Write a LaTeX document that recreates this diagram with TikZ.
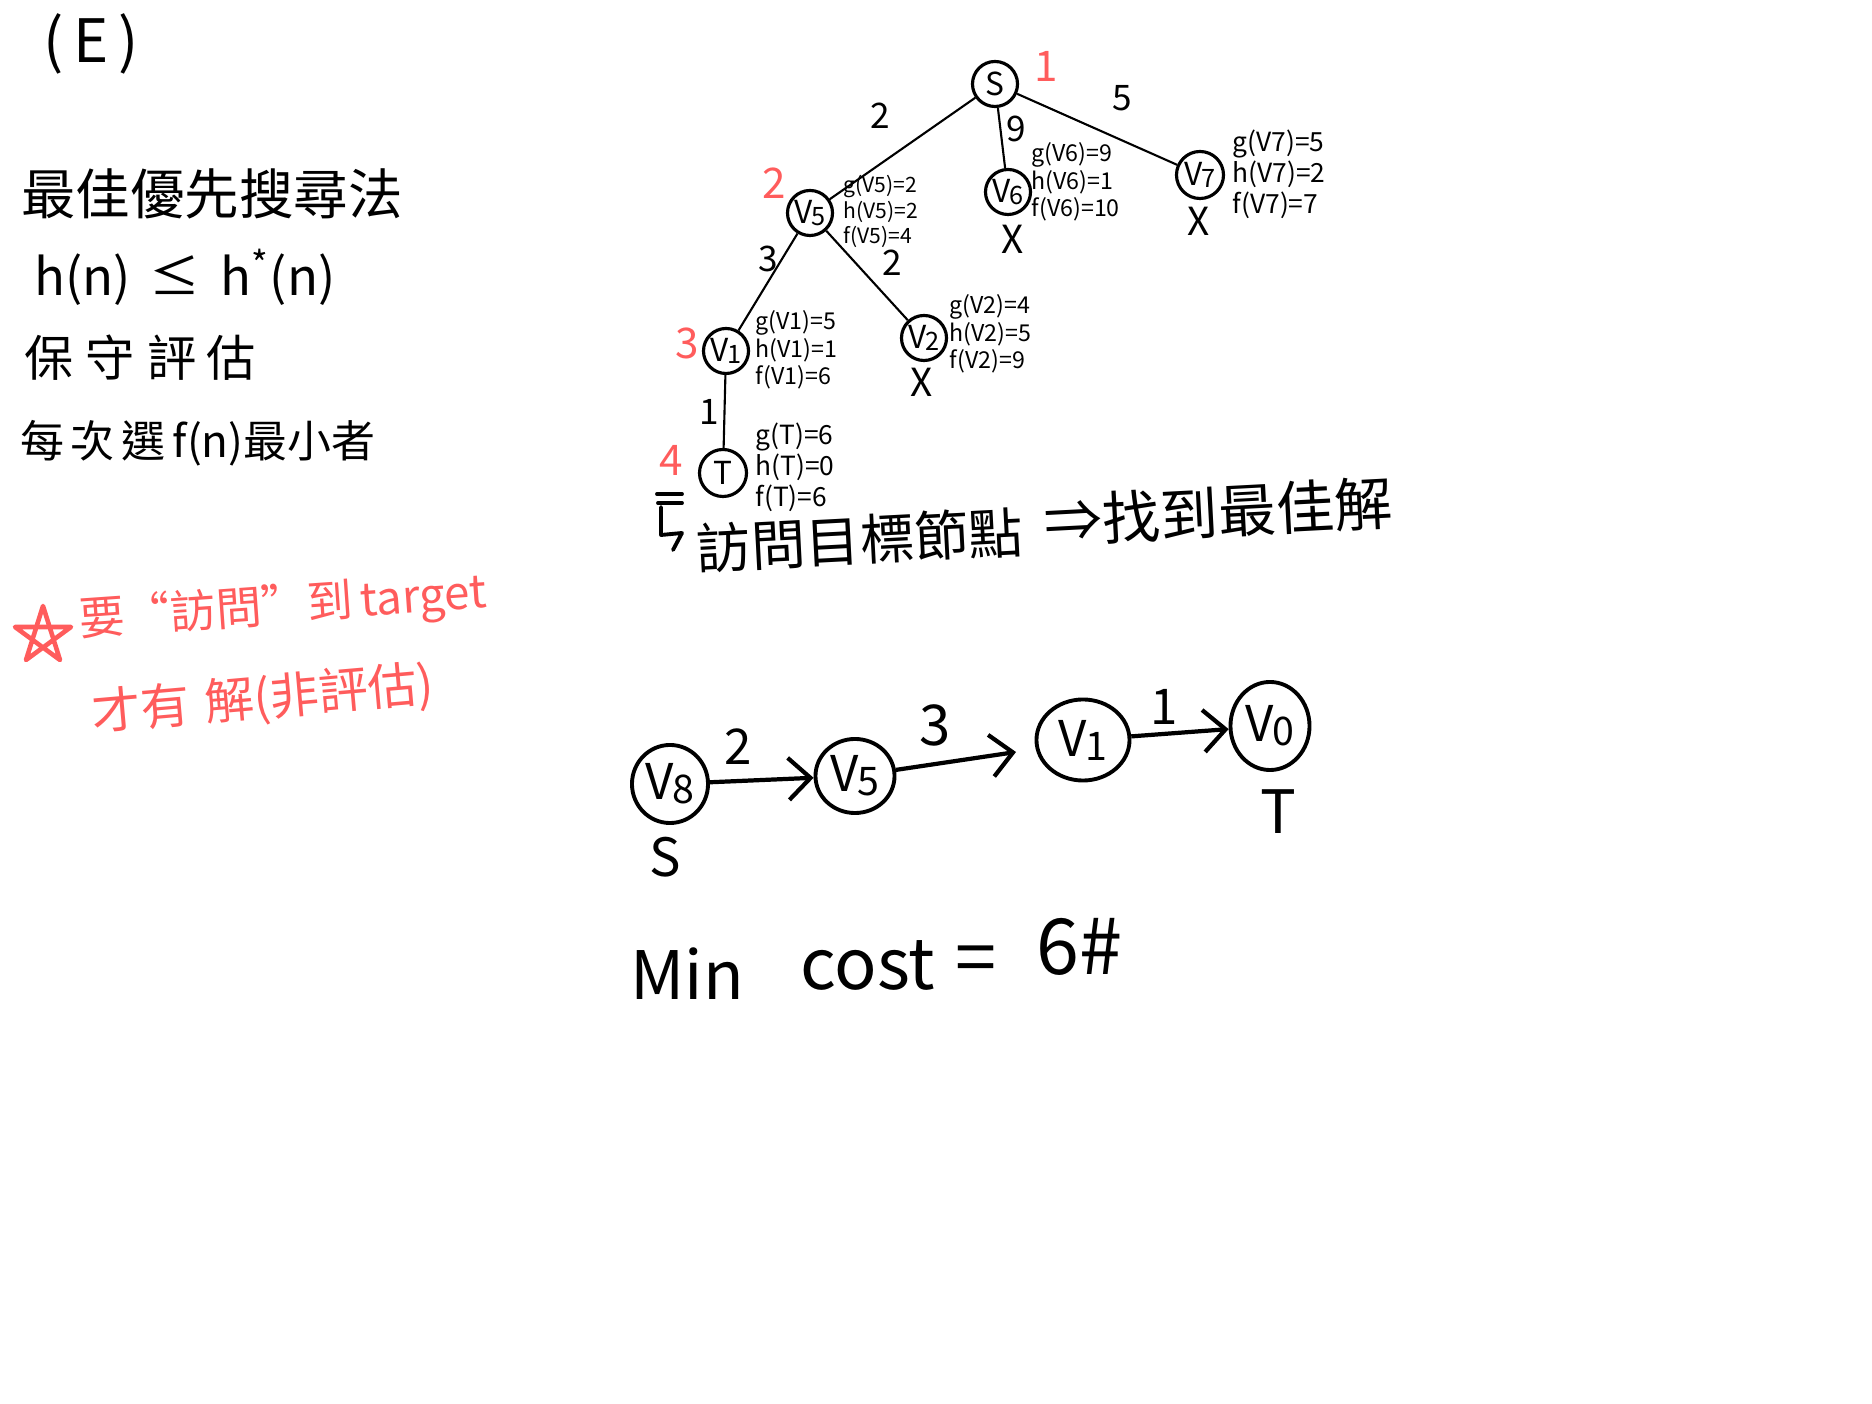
\documentclass[tikz,border=0pt]{standalone}
\usepackage{fontspec}
\setmainfont{Noto Sans CJK TC}
\usepackage{graphicx}
\usetikzlibrary{shapes.geometric,arrows.meta}
\definecolor{redink}{RGB}{255,92,92}
\newcommand{\fs}[1]{\fontsize{#1}{#1}\selectfont}
\newcommand{\vsub}[1]{V\kern-0.02em\raisebox{-0.15ex}{\scalebox{0.8}{#1}}}
\begin{document}
\begin{tikzpicture}[x=0.01cm,y=-0.01cm,
  tnode/.style={circle,draw,line width=0.9pt,minimum size=0.45cm,inner sep=0pt,font=\fs{9}},
  pnode/.style={ellipse,draw,line width=1.1pt,inner sep=0pt,font=\fs{14}},
  tedge/.style={line width=0.6pt},
  parrow/.style={line width=1.2pt,-{Straight Barb[length=2.2mm,width=4.2mm,line width=1.2pt]}},
  ann/.style={anchor=west,align=left,inner sep=0pt},
  lbl/.style={inner sep=0pt,font=\fs{10}},
  rednum/.style={text=redink,inner sep=0pt,font=\fs{12}},
  hand/.style={inner sep=0pt},
  xmark/.style={inner sep=0pt,font=\fs{11}}]
\fill[white] (0,0) rectangle (1872,1404);
\useasboundingbox (0,0) rectangle (1872,1404);

% ---------- left column ----------
\node[hand,font=\fs{17}] (E) at (91,44) {(\,E\,)};
\node[hand,font=\fs{15.5}] (title) at (212,194) {最佳優先搜尋法};
\node[hand,font=\fs{14.5}] (ineq) at (185,277) {h(n)\hspace{0.35em}≤\hspace{0.4em}h\textsuperscript{*}(n)};
\node[hand,font=\fs{14}] (cons) at (140,358) {保\hspace{0.25em}守\hspace{0.25em}評\hspace{0.2em}估};
\node[hand,font=\fs{12.5}] (each) at (198,443) {每\hspace{0.15em}次\hspace{0.15em}選\,f(n)最小者};

% red notes
\draw[redink,line width=1.3pt,line join=round]
  (43,606) -- (60,660) -- (15,627) -- (71,627) -- (26,660) -- cycle;
\node[hand,text=redink,font=\fs{13},rotate=4] (note1) at (283,608) {要“訪問”到\,target};
\node[hand,text=redink,font=\fs{14},rotate=5] (note2) at (263,700) {才有\hspace{0.3em}解(非評估)};

% ---------- search tree ----------
\node[tnode] (S) at (995,84) {S};
\node[tnode] (V5) at (810,213) {\vsub{5}};
\node[tnode,minimum width=0.43cm,minimum height=0.45cm] (V6) at (1008,192) {\vsub{6}};
\node[tnode,minimum size=0.47cm] (V7) at (1200,175) {\vsub{7}};
\node[tnode] (V1) at (726,351) {\vsub{1}};
\node[tnode] (V2) at (924,338) {\vsub{2}};
\node[tnode,minimum size=0.47cm] (T) at (723,473) {T};

\draw[tedge] (S) -- (V5);
\draw[tedge] (S) -- (V6);
\draw[tedge] (S) -- (V7);
\draw[tedge] (V5) -- (V1);
\draw[tedge] (V5) -- (V2);
\draw[tedge] (V1) -- (T);

\node[lbl] (w1) at (880,116) {2};
\node[lbl] (w2) at (1016,129) {9};
\node[lbl] (w3) at (1122,98) {5};
\node[lbl] (w4) at (768,259) {3};
\node[lbl] (w5) at (892,263) {2};
\node[lbl] (w6) at (709,412) {1};

\node[rednum] (r1) at (1046,66) {1};
\node[rednum] (r2) at (774,183) {2};
\node[rednum] (r3) at (687,343) {3};
\node[rednum] (r4) at (671,460) {4};

\node[xmark] (x6) at (1013,239) {X};
\node[xmark] (x7) at (1199,221) {X};
\node[xmark] (x2) at (922,382) {X};

\node[ann,font={\fontsize{6}{4.6}\selectfont}] (a5) at (843,211) {g(V5)=2\\h(V5)=2\\f(V5)=4};
\node[ann,font={\fontsize{6.6}{5.8}\selectfont}] (a6) at (1031,182) {g(V6)=9\\h(V6)=1\\f(V6)=10};
\node[ann,font={\fontsize{7.5}{7}\selectfont}] (a7) at (1232,174) {g(V7)=5\\h(V7)=2\\f(V7)=7};
\node[ann,font={\fontsize{6.6}{6.5}\selectfont}] (a1) at (755,350) {g(V1)=5\\h(V1)=1\\f(V1)=6};
\node[ann,font={\fontsize{6.6}{5.7}\selectfont}] (a2) at (949,334) {g(V2)=4\\h(V2)=5\\f(V2)=9};
\node[ann,font={\fontsize{7.5}{7}\selectfont}] (aT) at (755,467) {g(T)=6\\h(T)=0\\f(T)=6};

% hook arrow and conclusion
\draw[line width=1.1pt,line cap=round] (657,494) -- (682,494);
\draw[line width=1.1pt,line cap=round] (658,503) -- (682,503);
\draw[line width=1.1pt,line cap=round,line join=round] (661,507) -- (661,535) -- (682,533) -- (673,550);
\node[hand,font=\fs{15.5},rotate=3] (visit) at (860,540) {訪問目標節點};
\node[hand,font=\fs{16.5},rotate=3] (found) at (1218,512) {⇒找到最佳解};

% ---------- path ----------
\node[pnode,minimum width=0.76cm,minimum height=0.78cm] (P8) at (670,784) {\vsub{8}};
\node[pnode,minimum width=0.79cm,minimum height=0.74cm] (P5) at (855,776) {\vsub{5}};
\node[pnode,minimum width=0.93cm,minimum height=0.81cm] (P1) at (1083,740) {\vsub{1}};
\node[pnode,minimum width=0.79cm,minimum height=0.88cm] (P0) at (1270,726) {\vsub{0}};
\coordinate (a2end) at (1016,752);

\draw[parrow] (P8) -- (P5);
\draw[parrow] (P5) -- (a2end);
\draw[parrow] (P1) -- (P0);

\node[hand,font=\fs{14}] (pw1) at (738,747) {2};
\node[hand,font=\fs{16}] (pw2) at (935,725) {3};
\node[hand,font=\fs{14}] (pw3) at (1164,707) {1};
\node[hand,font=\fs{15}] (ps) at (665,857) {S};
\node[hand,font=\fs{17}] (pt) at (1278,812) {T};

% ---------- min cost ----------
\node[hand,font=\fs{19},anchor=base west] (min) at (630,1000) {Min};
\node[hand,font=\fs{20},anchor=base west] (cost) at (800,990) {cost};
\node[hand,font=\fs{21},anchor=base west] (eq) at (955,985) {=};
\node[hand,font=\fs{22},anchor=base west] (six) at (1036,975) {6\#};
\end{tikzpicture}
\end{document}
